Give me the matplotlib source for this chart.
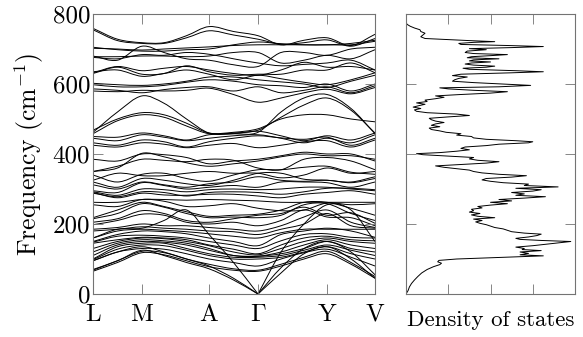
import numpy as np
import matplotlib
matplotlib.use("Agg")
import matplotlib.pyplot as plt
from matplotlib.path import Path
from matplotlib.patches import PathPatch

plt.rcParams['font.family'] = ['cmr10']
plt.rcParams['mathtext.fontset'] = 'cm'
plt.rcParams['axes.formatter.use_mathtext'] = True

# ---------------- data ----------------
# k-path distance of the sampled points (L .. V)
kdist = [0, 24.5, 49, 71, 93.5, 116, 140.5, 165, 188, 211, 234, 258, 282]
sym_pos = [0, 49, 116, 165, 234, 282]
sym_labels = ['L', 'M', 'A', r'$\Gamma$', 'Y', 'V']

# phonon branches (cm^-1) at the sampled k points
bands = [
    [759, 728, 718, 718, 738, 764, 750, 738, 712, 725, 732, 710, 742],
    [755, 724, 716, 716, 732, 752, 740, 728, 714, 718, 726, 708, 730],
    [702, 700, 697, 700, 703, 706, 710, 712, 712, 712, 712, 712, 722],
    [705, 698, 694, 694, 698, 700, 712, 720, 715, 712, 712, 716, 725],
    [680, 668, 708, 690, 672, 668, 655, 650, 690, 690, 682, 700, 705],
    [678, 678, 680, 680, 678, 680, 690, 690, 660, 668, 682, 672, 698],
    [676, 672, 684, 682, 690, 685, 672, 660, 652, 656, 660, 668, 640],
    [632, 650, 638, 645, 650, 640, 630, 625, 640, 662, 648, 650, 640],
    [630, 648, 628, 630, 652, 635, 625, 628, 628, 640, 640, 660, 632],
    [635, 640, 622, 630, 640, 628, 612, 625, 615, 605, 598, 612, 632],
    [602, 598, 596, 600, 608, 620, 620, 612, 606, 600, 590, 608, 625],
    [598, 592, 592, 596, 605, 612, 608, 598, 595, 590, 600, 580, 600],
    [586, 582, 575, 584, 590, 592, 580, 592, 575, 582, 592, 575, 595],
    [580, 578, 582, 580, 582, 588, 570, 548, 560, 575, 585, 572, 590],
    [462, 520, 566, 545, 500, 460, 458, 462, 520, 560, 570, 530, 458],
    [468, 500, 518, 512, 488, 460, 462, 472, 500, 512, 512, 500, 492],
    [458, 495, 512, 505, 480, 458, 460, 468, 505, 540, 560, 525, 460],
    [450, 448, 460, 452, 440, 455, 458, 465, 452, 438, 452, 440, 460],
    [445, 438, 455, 448, 438, 445, 452, 455, 445, 432, 445, 432, 455],
    [432, 425, 440, 435, 420, 435, 445, 452, 446, 442, 448, 425, 445],
    [425, 420, 432, 428, 418, 425, 430, 418, 425, 435, 438, 420, 440],
    [385, 380, 400, 398, 390, 372, 380, 385, 395, 405, 400, 400, 380],
    [350, 360, 402, 392, 375, 365, 372, 380, 392, 400, 395, 395, 385],
    [350, 365, 385, 382, 378, 385, 382, 360, 355, 385, 390, 380, 355],
    [325, 345, 338, 338, 345, 350, 345, 345, 332, 340, 360, 345, 350],
    [340, 320, 342, 345, 330, 322, 340, 355, 355, 362, 365, 348, 342],
    [320, 305, 330, 325, 315, 310, 325, 345, 345, 328, 325, 320, 335],
    [312, 300, 320, 312, 305, 315, 320, 335, 325, 322, 325, 318, 330],
    [295, 290, 318, 310, 300, 305, 310, 305, 320, 320, 318, 305, 320],
    [292, 282, 300, 298, 292, 298, 300, 298, 300, 305, 305, 300, 295],
    [288, 278, 292, 290, 280, 290, 292, 290, 285, 292, 302, 302, 298],
    [290, 275, 288, 283, 282, 285, 285, 280, 275, 285, 290, 295, 285],
    [262, 262, 270, 270, 268, 270, 268, 266, 262, 262, 262, 262, 262],
    [255, 250, 270, 265, 250, 252, 258, 245, 238, 240, 260, 255, 258],
    [218, 240, 262, 250, 235, 222, 225, 228, 240, 262, 262, 245, 225],
    [215, 230, 258, 248, 230, 218, 220, 218, 225, 255, 258, 230, 210],
    [205, 215, 238, 230, 210, 205, 215, 225, 230, 248, 225, 232, 202],
    [198, 210, 228, 225, 205, 200, 205, 195, 210, 240, 220, 218, 195],
    [185, 190, 200, 195, 195, 190, 185, 180, 195, 220, 240, 205, 190],
    [180, 185, 192, 188, 185, 180, 178, 170, 185, 200, 230, 195, 188],
    [160, 180, 185, 182, 178, 172, 165, 160, 175, 185, 185, 185, 185],
    [150, 170, 180, 178, 172, 160, 150, 138, 170, 180, 188, 180, 162],
    [148, 165, 168, 165, 160, 150, 140, 130, 152, 170, 172, 162, 160],
    [145, 155, 162, 160, 155, 140, 128, 115, 140, 160, 165, 155, 152],
    [130, 150, 160, 158, 150, 138, 120, 112, 130, 150, 160, 150, 145],
    [120, 145, 155, 152, 145, 130, 110, 108, 120, 140, 155, 140, 130],
    [110, 140, 150, 148, 140, 125, 110, 108, 115, 130, 150, 130, 120],
    [100, 135, 145, 145, 130, 115, 105, 105, 110, 125, 140, 125, 110],
    [98, 128, 140, 138, 125, 110, 100, 100, 105, 120, 135, 115, 100],
    [95, 120, 130, 128, 115, 100, 90, 80, 100, 118, 128, 105, 80],
    [68, 95, 122, 118, 100, 85, 72, 68, 85, 105, 122, 90, 50],
    [65, 90, 118, 112, 95, 78, 68, 65, 80, 100, 115, 85, 45],
    [160, 185, 188, 210, 240, 170, 90, 0, 120, 200, 255, 240, 150],
    [95, 120, 135, 120, 100, 80, 45, 0, 75, 130, 150, 120, 55],
    [70, 95, 125, 110, 90, 72, 40, 0, 60, 115, 135, 100, 45],
]

# phonon density of states (frequency in cm^-1, DOS in arb. units)
dos_freq = [0, 10, 20, 30, 40, 50, 60, 70, 78, 84, 88, 92, 96, 100, 103, 106,
            109, 112, 116, 120, 124, 127, 130, 134, 138, 142, 146, 150, 153,
            156, 159, 163, 167, 171, 174, 178, 182, 186, 190, 194, 198, 202,
            206, 210, 214, 218, 222, 226, 230, 234, 238, 242, 246, 250, 254,
            258, 262, 266, 270, 274, 278, 282, 286, 290, 294, 298, 302, 306,
            310, 314, 318, 322, 326, 330, 334, 338, 342, 346, 350, 354, 358,
            362, 366, 370, 374, 378, 382, 386, 390, 394, 398, 401, 404, 408,
            412, 416, 420, 424, 428, 432, 435, 438, 442, 446, 450, 454, 458,
            462, 466, 470, 474, 478, 482, 486, 490, 494, 498, 502, 506, 510,
            514, 518, 522, 526, 530, 534, 538, 542, 546, 550, 554, 558, 562,
            566, 570, 574, 578, 582, 586, 589, 592, 596, 600, 604, 608, 612,
            616, 620, 624, 628, 632, 635, 638, 642, 645, 648, 651, 654, 657,
            660, 663, 666, 669, 672, 675, 678, 681, 684, 687, 690, 694, 698,
            701, 704, 707, 710, 713, 716, 719, 721, 724, 727, 730, 735, 740,
            745, 750, 755, 760, 765, 770, 775]
dos_val = [0.0, 0.05, 0.08, 0.13, 0.2, 0.28, 0.37, 0.5, 0.65, 0.8, 0.84, 0.75,
           0.78, 1.2, 1.9, 2.6, 3.25, 2.7, 2.9, 2.7, 3.2, 2.75, 2.8, 2.6, 3.0,
           3.3, 3.6, 3.9, 3.2, 2.7, 2.6, 2.9, 3.1, 3.2, 2.8, 2.5, 2.4, 2.3,
           2.1, 2.0, 1.9, 1.75, 1.65, 1.8, 1.6, 2.1, 1.7, 1.55, 1.75, 1.5,
           1.6, 1.55, 1.8, 1.7, 2.0, 2.4, 2.0, 2.5, 2.2, 2.8, 3.3, 2.6, 2.8,
           2.5, 3.0, 3.2, 2.6, 3.6, 2.8, 2.9, 2.3, 2.0, 1.8, 1.9, 2.5, 2.85,
           2.2, 1.8, 1.6, 1.5, 1.2, 0.9, 0.7, 1.3, 1.9, 2.2, 1.7, 1.5, 1.6,
           1.0, 0.4, 0.25, 0.8, 1.2, 1.5, 1.3, 1.4, 1.9, 2.2, 2.9, 3.0, 2.6,
           1.9, 1.6, 1.55, 1.2, 1.3, 0.95, 0.8, 0.6, 0.55, 0.8, 0.6, 0.7, 0.9,
           0.7, 0.6, 0.55, 1.0, 1.5, 1.2, 0.5, 0.25, 0.2, 0.35, 0.17, 0.3,
           0.45, 0.25, 0.5, 0.45, 0.7, 0.9, 0.7, 1.3, 2.0, 2.4, 1.6, 1.0, 0.8,
           2.2, 2.95, 2.3, 1.6, 1.1, 1.15, 1.25, 1.45, 1.1, 1.3, 2.5, 3.25,
           2.6, 1.5, 1.35, 1.9, 2.1, 1.6, 1.4, 1.55, 2.0, 1.5, 1.6, 2.2, 1.45,
           1.55, 2.0, 2.4, 1.6, 1.4, 1.45, 1.9, 1.5, 2.5, 3.25, 2.4, 1.3,
           1.25, 1.6, 2.1, 1.5, 1.0, 0.45, 0.35, 0.4, 0.45, 0.35, 0.33, 0.2,
           0.1, 0.03, 0.0]

freq_ticks = [0, 200, 400, 600, 800]
freq_ticklabels = ['0', '200', '400', '600', '800']
dos_ticks = [0, 1, 2, 3, 4]


# ---------------- helpers ----------------
def smooth_path(x, y):
    """Cubic Bezier path through the data points (Catmull-Rom tangents)."""
    x = np.asarray(x, float)
    y = np.asarray(y, float)
    n = len(x)
    m = np.zeros(n)
    for i in range(n):
        if i == 0:
            m[i] = (y[1] - y[0]) / (x[1] - x[0])
        elif i == n - 1:
            m[i] = (y[-1] - y[-2]) / (x[-1] - x[-2])
        else:
            m[i] = (y[i + 1] - y[i - 1]) / (x[i + 1] - x[i - 1])
    verts = [(x[0], y[0])]
    codes = [Path.MOVETO]
    for i in range(n - 1):
        h = x[i + 1] - x[i]
        verts += [(x[i] + h / 3, y[i] + m[i] * h / 3),
                  (x[i + 1] - h / 3, y[i + 1] - m[i + 1] * h / 3),
                  (x[i + 1], y[i + 1])]
        codes += [Path.CURVE4] * 3
    return verts, codes


FS = 18

fig = plt.figure(figsize=(5.83, 3.37), dpi=100)
ax = fig.add_axes([93 / 583, 43 / 337, 282 / 583, 280 / 337])
ax2 = fig.add_axes([406 / 583, 43 / 337, 169 / 583, 280 / 337])

spine_col = '0.45'
for a in (ax, ax2):
    for s in a.spines.values():
        s.set_color(spine_col)
        s.set_linewidth(0.8)
    a.tick_params(direction='in', length=7, width=0.6, color=spine_col,
                  top=True, right=True, labelsize=FS, pad=2)
    a.tick_params(axis='x', pad=7)

# band structure
gi = kdist.index(165)
for b in bands:
    if b[gi] == 0:
        pieces = [(kdist[:gi + 1], b[:gi + 1]), (kdist[gi:], b[gi:])]
    else:
        pieces = [(kdist, b)]
    for xs, ys in pieces:
        verts, codes = smooth_path(xs, ys)
        ax.add_patch(PathPatch(Path(verts, codes), fill=False,
                               edgecolor='black', lw=0.7))

ax.set_xlim(kdist[0], kdist[-1])
ax.set_ylim(freq_ticks[0], freq_ticks[-1])
ax.set_xticks(sym_pos)
ax.set_xticklabels(sym_labels)
ax.set_yticks(freq_ticks)
ax.set_yticklabels(freq_ticklabels)
ax.set_ylabel(r'Frequency (cm$^{-1}$)', fontsize=18.5, labelpad=5)

# DOS
ax2.plot(dos_val, dos_freq, color='black', lw=0.7)
ax2.set_xlim(dos_ticks[0], dos_ticks[-1])
ax2.set_ylim(freq_ticks[0], freq_ticks[-1])
ax2.set_xticks(dos_ticks)
ax2.set_yticks(freq_ticks)
ax2.tick_params(labelleft=False, labelbottom=False)
ax2.set_xlabel('Density of states', fontsize=16.5, labelpad=12)

fig.savefig('out.png', dpi=100)
